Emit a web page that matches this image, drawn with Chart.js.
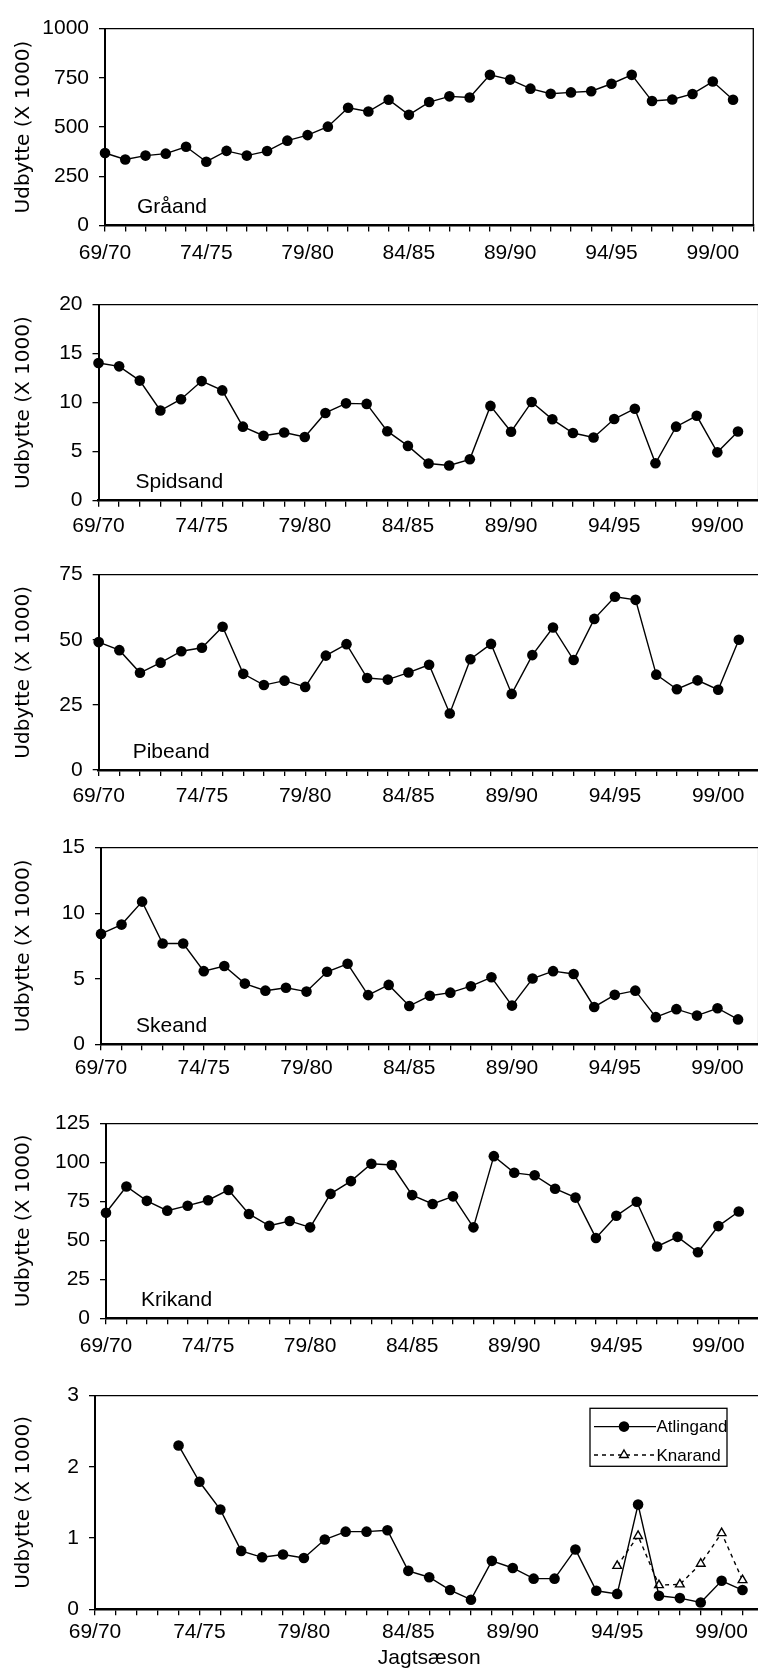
<!DOCTYPE html>
<html>
<head>
<meta charset="utf-8">
<script src="https://cdn.jsdelivr.net/npm/chart.js@4.4.1/dist/chart.umd.min.js"></script>
<style>
  html, body { margin: 0; padding: 0; background: #fff; overflow: hidden; }
  body { width: 758px; height: 1671px; position: relative; }
  canvas { position: absolute; left: 0; }
</style>
</head>
<body>
<canvas id="c0"></canvas>
<canvas id="c1"></canvas>
<canvas id="c2"></canvas>
<canvas id="c3"></canvas>
<canvas id="c4"></canvas>
<canvas id="c5"></canvas>
<script>
// hunting seasons on the x axis (last one only carries a tick)
const seasons = ['69/70', '70/71', '71/72', '72/73', '73/74', '74/75', '75/76', '76/77', '77/78', '78/79',
  '79/80', '80/81', '81/82', '82/83', '83/84', '84/85', '85/86', '86/87', '87/88', '88/89',
  '89/90', '90/91', '91/92', '92/93', '93/94', '94/95', '95/96', '96/97', '97/98', '98/99',
  '99/00', '00/01', '01/02'];

// bag per season, thousands of birds
const graaand = [368, 335, 355, 365, 400, 324, 379, 355, 378, 431, 459, 502, 598, 579, 639, 562,
  627, 656, 650, 765, 741, 695, 669, 676, 682, 720, 765, 632, 640, 668, 731, 639];
const spidsand = [14.05, 13.7, 12.25, 9.2, 10.35, 12.2, 11.25, 7.55, 6.63, 6.96, 6.5, 8.95, 9.93, 9.87, 7.09, 5.59,
  3.79, 3.59, 4.22, 9.67, 7.03, 10.07, 8.3, 6.9, 6.44, 8.33, 9.38, 3.82, 7.55, 8.66, 4.93, 7.06];
const pibeand = [49.1, 46.0, 37.3, 41.2, 45.6, 46.9, 55.0, 36.9, 32.6, 34.3, 31.9, 43.9, 48.3, 35.3, 34.7, 37.4,
  40.4, 21.7, 42.5, 48.4, 29.2, 44.1, 54.7, 42.2, 58.0, 66.5, 65.3, 36.6, 31.0, 34.4, 30.8, 50.0];
const skeand = [8.42, 9.13, 10.88, 7.69, 7.69, 5.58, 5.97, 4.63, 4.09, 4.31, 4.02, 5.53, 6.14, 3.75, 4.53, 2.92,
  3.70, 3.94, 4.43, 5.11, 2.95, 5.02, 5.58, 5.36, 2.85, 3.77, 4.09, 2.07, 2.68, 2.19, 2.75, 1.9];
const krikand = [67.8, 84.6, 75.4, 69.1, 72.3, 75.8, 82.4, 67.0, 59.4, 62.5, 58.4, 79.9, 88.1, 99.2, 98.4, 79.1,
  73.4, 78.3, 58.4, 104.1, 93.4, 91.8, 83.2, 77.5, 51.6, 65.8, 74.8, 46.1, 52.3, 42.4, 59.2, 68.6];
const atlingand = [null, null, null, null, 2.30, 1.79, 1.40, 0.82, 0.73, 0.77, 0.72, 0.98, 1.09, 1.09, 1.11, 0.54,
  0.45, 0.27, 0.135, 0.68, 0.58, 0.43, 0.43, 0.84, 0.26, 0.216, 1.47, 0.19, 0.157, 0.095, 0.40, 0.27];
const knarand = [null, null, null, null, null, null, null, null, null, null, null, null, null, null, null, null,
  null, null, null, null, null, null, null, null, null, 0.61, 1.03, 0.34, 0.35, 0.64, 1.07, 0.41];

const yMax = [1000, 20, 75, 15, 125, 3];
const yStep = [250, 5, 25, 5, 25, 1];

const panels = [
  { name: 'Gråand', series: [{ label: 'Gråand', values: graaand }] },
  { name: 'Spidsand', series: [{ label: 'Spidsand', values: spidsand }] },
  { name: 'Pibeand', series: [{ label: 'Pibeand', values: pibeand }] },
  { name: 'Skeand', series: [{ label: 'Skeand', values: skeand }] },
  { name: 'Krikand', series: [{ label: 'Krikand', values: krikand }] },
  { name: null, series: [{ label: 'Atlingand', values: atlingand }, { label: 'Knarand', values: knarand, dashed: true }] }
];

// plot area of each panel on the page, plus gap between tick and label
const boxes = [
  { left: 105, right: 753.3, top: 20, bottom: 225.5, gap: 9, nameX: 32 },
  { left: 98.5, right: 758.6, top: 296.7, bottom: 500.7, gap: 7, nameX: 37 },
  { left: 98.7, right: 759.5, top: 566, bottom: 770, gap: 8, nameX: 34 },
  { left: 101, right: 758.6, top: 839, bottom: 1044.3, gap: 5, nameX: 35 },
  { left: 106, right: 759.2, top: 1115, bottom: 1318.3, gap: 9, nameX: 35 },
  { left: 95, right: 763.4, top: 1387.3, bottom: 1609.3, gap: 4.5, nameX: 0 }
];
const RIGHT_PAD = 16;

const SANS = "'Liberation Sans', Arial, sans-serif";
Chart.defaults.font.family = SANS;
Chart.defaults.font.size = 21;
Chart.defaults.color = '#000';

// top/right frame, species name and the boxed legend of the last panel
const frame = {
  id: 'frame',
  afterDatasetsDraw(chart, args, opts) {
    const { ctx, chartArea: a } = chart;
    ctx.save();
    ctx.strokeStyle = '#000';
    ctx.lineWidth = 1.3;
    ctx.beginPath();
    ctx.moveTo(a.left, a.top);
    ctx.lineTo(a.right, a.top);
    ctx.lineTo(a.right, a.bottom);
    ctx.stroke();
    ctx.fillStyle = '#000';
    ctx.textBaseline = 'middle';
    if (opts.name) {
      ctx.font = '21px ' + SANS;
      ctx.fillText(opts.name, a.left + opts.nameX, a.bottom - 18);
    }
    if (opts.legend) {
      const w = 137, h = 58;
      const x0 = a.right - 36.4 - w, y0 = a.top + 12.7;
      ctx.fillStyle = '#fff';
      ctx.fillRect(x0, y0, w, h);
      ctx.lineWidth = 1.3;
      ctx.strokeRect(x0, y0, w, h);
      ctx.font = '17px ' + SANS;
      chart.data.datasets.forEach((d, i) => {
        const y = y0 + 18.3 + i * 28.4;
        ctx.setLineDash(d.borderDash || []);
        ctx.lineWidth = d.borderWidth;
        ctx.strokeStyle = d.borderColor;
        ctx.beginPath();
        ctx.moveTo(x0 + 4, y);
        ctx.lineTo(x0 + 66, y);
        ctx.stroke();
        ctx.setLineDash([]);
        ctx.fillStyle = d.pointBackgroundColor;
        ctx.strokeStyle = d.pointBorderColor;
        ctx.lineWidth = d.pointBorderWidth;
        Chart.helpers.drawPoint(ctx, {
          pointStyle: d.pointStyle, radius: d.pointRadius, rotation: 0, borderWidth: d.pointBorderWidth
        }, x0 + 34, y);
        ctx.fillStyle = '#000';
        ctx.fillText(d.label, x0 + 66.5, y + 1);
      });
    }
    ctx.restore();
  }
};

panels.forEach((p, k) => {
  const b = boxes[k];
  const last = k === panels.length - 1;
  const cv = document.getElementById('c' + k);
  const top = Math.floor(b.top - 14);
  const bottom = last ? 1671 : Math.ceil(b.bottom + 44);
  const width = Math.ceil(b.right + RIGHT_PAD);
  cv.width = width;
  cv.height = bottom - top;
  cv.style.width = width + 'px';
  cv.style.height = (bottom - top) + 'px';
  cv.style.top = top + 'px';

  const datasets = p.series.map(s => ({
    label: s.label,
    data: s.values.map((v, i) => ({ x: i, y: v })),
    borderColor: '#000',
    borderWidth: 1.4,
    borderDash: s.dashed ? [4, 4] : [],
    pointStyle: s.dashed ? 'triangle' : 'circle',
    pointRadius: s.dashed ? 5 : 5.3,
    pointBackgroundColor: s.dashed ? '#fff' : '#000',
    pointBorderColor: '#000',
    pointBorderWidth: s.dashed ? 1.4 : 0,
    spanGaps: false,
    tension: 0,
    clip: false
  }));

  new Chart(cv, {
    type: 'line',
    data: { datasets },
    options: {
      responsive: false,
      animation: false,
      devicePixelRatio: 1,
      events: [],
      layout: { padding: { top: b.top - top, right: width - b.right, left: 0, bottom: 0 } },
      plugins: {
        legend: { display: false },
        tooltip: { enabled: false },
        frame: { name: p.name, nameX: b.nameX, legend: last }
      },
      scales: {
        x: {
          type: 'linear',
          min: 0,
          max: seasons.length - 1,
          afterBuildTicks: s => { s.ticks = seasons.map((_, i) => ({ value: i })); },
          afterFit: s => { s.height = bottom - b.bottom; },
          ticks: {
            autoSkip: false,
            maxRotation: 0,
            padding: b.gap,
            font: { size: 21 },
            callback: v => (v % 5 === 0 ? seasons[v] : '')
          },
          grid: { drawOnChartArea: false, drawTicks: true, tickLength: 6, color: '#000', lineWidth: 1.3 },
          border: { display: true, color: '#000', width: 2.5 },
          title: {
            display: last,
            text: 'Jagtsæson',
            font: { size: 21 },
            padding: { top: 0, bottom: 0 }
          }
        },
        y: {
          min: 0,
          max: yMax[k],
          afterFit: s => { s.width = b.left; },
          ticks: {
            stepSize: yStep[k],
            padding: 10,
            font: { size: 21 },
            callback: v => String(v)
          },
          grid: { drawOnChartArea: false, drawTicks: true, tickLength: 6, color: '#000', lineWidth: 1.3 },
          border: { display: true, color: '#000', width: 2 },
          title: {
            display: true,
            text: 'Udbytte (X 1000)',
            font: { family: "'DejaVu Sans', Verdana, sans-serif", size: 20 },
            padding: { top: 12, bottom: 0 }
          }
        }
      }
    },
    plugins: [frame]
  });
});
</script>
</body>
</html>
